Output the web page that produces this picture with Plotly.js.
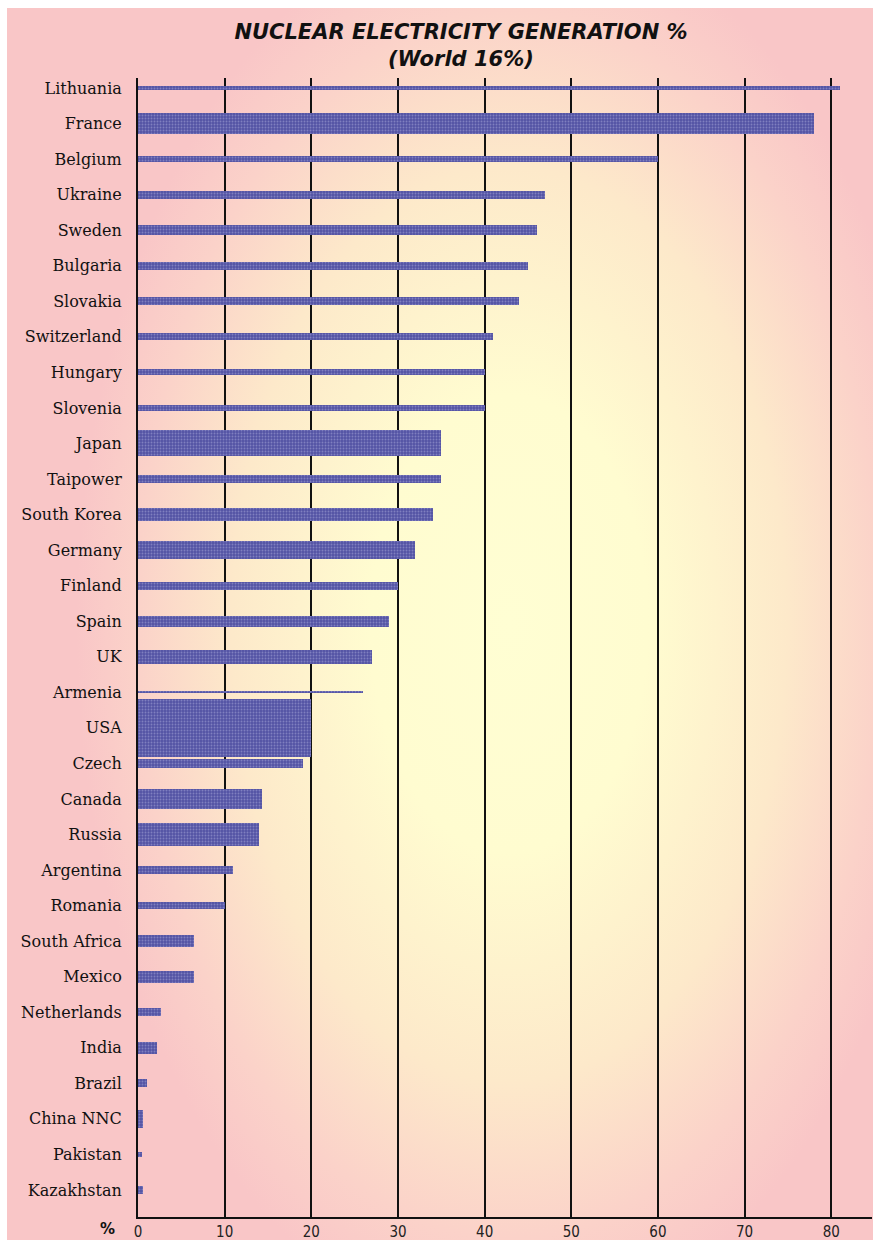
<!DOCTYPE html>
<html>
<head>
<meta charset="utf-8">
<script src="https://cdn.plot.ly/plotly-3.0.1.min.js"></script>
<style>
  html, body { margin: 0; padding: 0; background: #ffffff; }
  #wrap { position: relative; width: 876px; height: 1245px; overflow: hidden; background: #ffffff; }
  #bg { position: absolute; left: 7px; top: 8px; width: 866px; height: 1232px;
        background: radial-gradient(ellipse 50% 58% at 58% 50%, #fffed3 0%, #fffcd0 32%, #fde9ca 64%, #fbd2c9 86%, #f9c6c7 100%); }
  #chart { position: absolute; left: 0; top: 0; width: 876px; height: 1245px; }
</style>
</head>
<body>
<div id="wrap"><div id="bg"></div><div id="chart"></div></div>
<script>
// Countries, top to bottom
const countries = ["Lithuania","France","Belgium","Ukraine","Sweden","Bulgaria","Slovakia","Switzerland",
  "Hungary","Slovenia","Japan","Taipower","South Korea","Germany","Finland","Spain","UK","Armenia",
  "USA","Czech","Canada","Russia","Argentina","Romania","South Africa","Mexico","Netherlands","India",
  "Brazil","China NNC","Pakistan","Kazakhstan"];
// Nuclear share of electricity generation (%)
const nuclearShare = [81,78,60,47,46,45,44,41,40,40,35,35,34,32,30,29,27,26,20,19,14.3,14,11,10,6.5,6.5,2.7,2.2,1,0.6,0.5,0.6];
// Relative bar thickness (fraction of a row), as drawn in the original
const barThickness = [0.11,0.57,0.17,0.22,0.28,0.22,0.22,0.2,0.17,0.17,0.73,0.22,0.37,0.51,0.22,0.31,0.39,0.06,
  1.65,0.25,0.56,0.62,0.22,0.2,0.34,0.34,0.22,0.34,0.22,0.5,0.14,0.22];
const xTicks = [0,10,20,30,40,50,60,70,80];
const titleLine1 = "NUCLEAR ELECTRICITY GENERATION %";
const titleLine2 = "(World 16%)";

const trace = {
  type: "bar",
  orientation: "h",
  y: countries,
  x: nuclearShare,
  width: barThickness,
  marker: {
    color: "#5454a4",
    line: { width: 0 },
    pattern: { shape: ".", fillmode: "overlay", fgcolor: "#a9a9dc", size: 3, solidity: 0.3 }
  },
  hoverinfo: "y+x"
};

const titleFont = { family: "DejaVu Sans", size: 21, color: "#111111", weight: "bold", style: "italic" };

const layout = {
  width: 876,
  height: 1245,
  margin: { l: 138, r: 4, t: 78, b: 28 },
  paper_bgcolor: "rgba(0,0,0,0)",
  plot_bgcolor: "rgba(0,0,0,0)",
  showlegend: false,
  bargap: 0,
  title: {
    text: titleLine1,
    font: titleFont,
    xref: "container", x: 461 / 876, xanchor: "center",
    yref: "container", y: 1 - 32 / 1245, yanchor: "middle"
  },
  xaxis: {
    range: [0, 84.7],
    tickvals: xTicks,
    ticktext: xTicks.map(String),
    showgrid: true,
    gridcolor: "#111111",
    gridwidth: 2,
    zeroline: false,
    showline: true,
    linecolor: "#111111",
    linewidth: 2,
    ticks: "",
    ticklabelstandoff: 0,
    tickfont: { family: "Liberation Sans Narrow, DejaVu Sans Condensed, sans-serif", size: 15, color: "#222222" },
    fixedrange: true
  },
  yaxis: {
    type: "category",
    range: [31.76, -0.28],
    showgrid: false,
    zeroline: false,
    showline: true,
    linecolor: "#111111",
    linewidth: 2,
    ticks: "",
    ticklabelstandoff: 11,
    tickfont: { family: "DejaVu Serif, Liberation Serif, serif", size: 16, color: "#111111" },
    fixedrange: true
  },
  annotations: [
    {
      text: titleLine2, xref: "paper", yref: "paper",
      x: (461 - 138) / 734, y: 1 + (78 - 59) / 1139, xanchor: "center", yanchor: "middle",
      showarrow: false, font: titleFont
    },
    {
      text: "<b>%</b>", xref: "paper", yref: "paper",
      x: -31 / 734, y: -12 / 1139, xanchor: "center", yanchor: "middle",
      showarrow: false,
      font: { family: "DejaVu Sans", size: 15, color: "#111111" }
    }
  ]
};

Plotly.newPlot("chart", [trace], layout, { displayModeBar: false, staticPlot: true });
</script>
</body>
</html>
